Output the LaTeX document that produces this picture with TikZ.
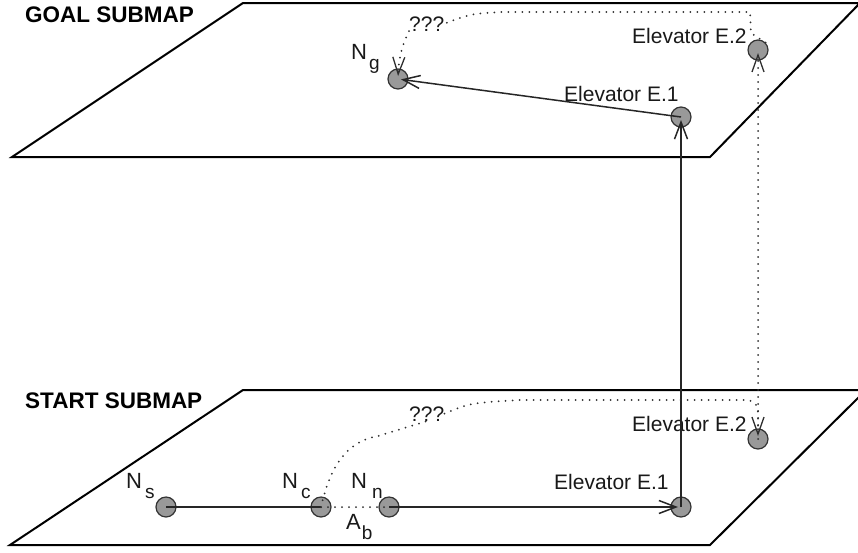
\documentclass[tikz,border=0pt]{standalone}
\usepackage{fontspec}
\setmainfont{Liberation Sans}
\usetikzlibrary{arrows.meta}
\begin{document}
\begin{tikzpicture}[x=1pt,y=-1pt,
  plane/.style={line width=2pt, line join=miter, draw=black},
  place/.style={circle, draw=black!80, fill=black!40, line width=1.2pt, minimum size=20pt, inner sep=0pt},
  solidline/.style={line width=1.5pt, draw=black!85},
  solidarrow/.style={solidline, -{Straight Barb[length=17pt,width=13pt]}, shorten >=3pt},
  dotline/.style={line width=2pt, draw=black!82, line cap=round, dash pattern=on 0pt off 7pt},
  dotarrow/.style={dotline, -{Straight Barb[length=17pt,width=12pt,line width=1.3pt]}, shorten >=3pt},
  lbl/.style={inner sep=0pt, anchor=base west, text=black!90, font=\fontsize{21}{21}\selectfont},
  nlbl/.style={inner sep=0pt, anchor=base west, text=black!90, font=\fontsize{22}{22}\selectfont},
  qlbl/.style={inner sep=0pt, anchor=base west, text=black!90, font=\fontsize{21}{21}\selectfont},
  titlelbl/.style={inner sep=0pt, anchor=base west, font=\fontsize{22.5}{22.5}\selectfont\bfseries},
]
\newcommand{\subl}[3]{#1\hspace{#3}\raisebox{-10.5pt}{\fontsize{19}{19}\selectfont #2}}
\useasboundingbox (0,0) rectangle (858,552);

% planes
\begin{scope}
  \clip (0,0) rectangle (858,552);
  \draw[plane] (12,157) -- (243,3) -- (860,3) -- (710,157) -- cycle;
  \draw[plane] (10,545) -- (243,390) -- (866,390) -- (710,545) -- cycle;
\end{scope}

% titles
\node[titlelbl] (tgoal) at (25,22) {GOAL SUBMAP};
\node[titlelbl] (tstart) at (25,408) {START SUBMAP};

% places
\node[place] (Ng) at (398,79) {};
\node[place] (E1g) at (681,117) {};
\node[place] (E2g) at (758,50) {};
\node[place] (Ns) at (166,507) {};
\node[place] (Nc) at (321,507) {};
\node[place] (Nn) at (389,507) {};
\node[place] (E1s) at (681,507) {};
\node[place] (E2s) at (758,439) {};

% labels
\node[lbl] (lE1g) at (564,101) {Elevator E.1};
\node[lbl] (lE2g) at (632,43) {Elevator E.2};
\node[lbl] (lE1s) at (554,489) {Elevator E.1};
\node[lbl] (lE2s) at (632,431) {Elevator E.2};
\node[nlbl] (lNg) at (351,59) {\subl{N}{g}{2pt}};
\node[nlbl] (lNs) at (126,488) {\subl{N}{s}{3pt}};
\node[nlbl] (lNc) at (282,488) {\subl{N}{c}{3pt}};
\node[nlbl] (lNn) at (351,488) {\subl{N}{n}{5pt}};
\node[nlbl] (lAb) at (346,529) {\subl{A}{b}{1pt}};
\node[qlbl] (q2) at (409,31) {???};
\node[qlbl] (q1) at (409,421) {???};

% connectors (start submap)
\draw[solidline] (Ns.center) -- (Nc.center);
\draw[dotline] (Nc.center) -- (Nn.center);
\draw[solidarrow] (Nn.center) -- (E1s.center);
\draw[solidarrow] (E1s.center) -- (E1g.center);
\draw[solidarrow] (E1g.center) -- (Ng.center);
\draw[dotarrow] (E2s.center) -- (E2g.center);

\coordinate (c1) at (378,436);
\coordinate (c2) at (520,400);
\coordinate (c3) at (745,400);
\draw[dotline] (Nc.center) .. controls (330,468) and (345,442) .. (c1) -- (q1.south);
\draw[dotarrow] (q1.east) .. controls (470,403) .. (c2) -- (c3)
  .. controls (756,400) and (758,406) .. (758,416) -- (E2s.center);

% connectors (goal submap)
\coordinate (g1) at (751,33);
\coordinate (g2) at (750,12);
\coordinate (g3) at (500,12);
\draw[dotline] (E2g.north east) -- (g1) -- (g2) -- (g3) .. controls (470,14) .. (q2.east);
\draw[dotarrow] (q2.south west) .. controls (405,40) and (399,52) .. (Ng.center);
\end{tikzpicture}
\end{document}
